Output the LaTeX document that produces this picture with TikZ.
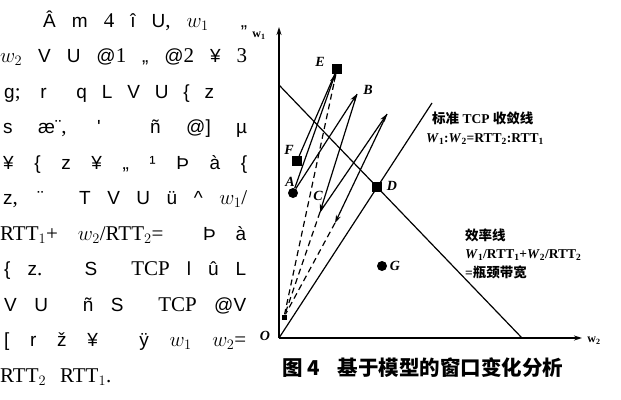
\documentclass[tikz,border=0pt]{standalone}
\usepackage{fontspec}
\newfontfamily\gar{Liberation Sans}
\newfontfamily\tms{Liberation Serif}
\newfontfamily\cjk{Noto Sans CJK SC}
\usetikzlibrary{arrows.meta,positioning,calc}

% serif pieces of the garbled text are set larger
\newcommand{\sr}[1]{{\tms\fontsize{21}{21}\selectfont #1}}

\tikzset{
  garb/.style={anchor=base west,inner sep=0pt,font=\gar\fontsize{19}{19}\selectfont},
  axis/.style={line width=1.6pt,-{Stealth[length=8pt,width=5pt]}},
  ln/.style={line width=1.2pt},
  dsh/.style={line width=1.2pt,dash pattern=on 6pt off 4pt},
  arr/.style={ln,-{Stealth[length=8pt,width=5pt]}},
  sqdot/.style={rectangle,fill=black,minimum size=10pt,inner sep=0pt},
  rdot/.style={circle,fill=black,minimum size=10pt,inner sep=0pt},
  ptlab/.style={inner sep=0pt,font=\tms\bfseries\itshape\fontsize{14}{14}\selectfont},
  lab/.style={anchor=base west,inner sep=0pt,font=\tms\bfseries\fontsize{13.5}{15}\selectfont},
}

\begin{document}
\begin{tikzpicture}[x=1pt,y=-1pt]
    \useasboundingbox (0,0) rectangle (621,399);

    % garbled column of text
    \node[garb] (l1) at (43,27) {\makebox[204pt][s]{Â m \sr{4} î U\sr{,} \sr{$w_1$} \ „}};
    \node[garb] (l2) at (0,62) {\makebox[247pt][s]{\sr{$w_2$} V U @\sr{1} „ @\sr{2} ¥ \sr{3}}};
    \node[garb] (l3) at (4,98) {\makebox[210pt][s]{g\sr{;} r \ q L V U \{ z}};
    \node[garb] (l4) at (3,133) {\makebox[244pt][s]{s æ¨\sr{,} ' \quad ñ @] µ}};
    \node[garb] (l5) at (3,169) {\makebox[244pt][s]{¥ \{ z ¥ „ ¹ Þ à \{}};
    \node[garb] (l6) at (3,204) {\makebox[244pt][s]{z\sr{,} ¨ \quad T V U ü \textasciicircum{} \sr{$w_1$/}}};
    \node[garb] (l7) at (0,240) {\makebox[246pt][s]{\sr{RTT$_1$+} \sr{$w_2$/RTT$_2$=} \ Þ à}};
    \node[garb] (l8) at (4,275) {\makebox[242pt][s]{\{ z\sr{.} S \ \sr{TCP} l û L}};
    \node[garb] (l9) at (4,311) {\makebox[242pt][s]{V U \ ñ S \ \sr{TCP} @V}};
    \node[garb] (l10) at (4,346) {\makebox[242pt][s]{[ r ž ¥ \ ÿ \sr{$w_1$} \sr{$w_2$=}}};
    \node[garb] (l11) at (0,382) {\sr{RTT$_2$\hspace{14pt}RTT$_1$.}};

    % axes and the two lines
    \coordinate (O) at (279,338);
    \coordinate (yend) at (279,27);
    \coordinate (xend) at (582,338);
    \coordinate (eff1) at (279,85);
    \coordinate (eff2) at (522,338);
    \coordinate (fair) at (432,103);
    \draw[axis] (O) -- (yend);
    \draw[axis] (O) -- (xend);
    \draw[ln] (eff1) -- (eff2);
    \draw[ln] (O) -- (fair);

    % points
    \node[sqdot] (D) at (377,187) {};
    \node[sqdot] (E) at (337,69) {};
    \node[sqdot] (F) at (297,161) {};
    \node[rdot] (A) at (293,193) {};
    \node[rdot] (G) at (382,266) {};
    \node[sqdot,minimum size=5pt] (S) at (284,317) {};
    \coordinate (B) at (357,94);
    \coordinate (C) at (320,212);
    \coordinate (P) at (387,114);
    \coordinate (Q) at (335,223);

    % window moves
    \draw[arr] (A) -- (B);
    \draw[arr] (B) -- (C);
    \draw[arr] (C) -- (P);
    \draw[arr] (P) -- (Q);
    \draw[arr] (A) -- (E);
    \draw[ln] (F) -- (E);
    \draw[dsh] (E) -- (S);
    \draw[dsh] (C) -- (S);
    \draw[dsh] (Q) -- (S);

    % labels
    \node[ptlab] (lE) at (320,62) {E};
    \node[ptlab] (lB) at (368,90) {B};
    \node[ptlab] (lF) at (289,150) {F};
    \node[ptlab] (lA) at (290,182) {A};
    \node[ptlab] (lC) at (318,196) {C};
    \node[ptlab] (lD) at (392,186) {D};
    \node[ptlab] (lG) at (395,266) {G};
    \node[ptlab] (lO) at (265,336) {O};
    \node[inner sep=0pt,font=\tms\bfseries\fontsize{12}{12}\selectfont] (w1) at (259,36) {w\textsubscript{1}};
    \node[inner sep=0pt,font=\tms\bfseries\fontsize{12}{12}\selectfont] (w2) at (594,341) {w\textsubscript{2}};

    \node[lab] (fl1) at (432,123) {{\cjk\bfseries 标准} TCP {\cjk\bfseries 收敛线}};
    \node[lab] (fl2) at (426,142) {\textit{W}\textsubscript{1}:\textit{W}\textsubscript{2}=RTT\textsubscript{2}:RTT\textsubscript{1}};
    \node[lab] (el1) at (465,240) {\cjk\bfseries 效率线};
    \node[lab] (el2) at (465,258) {\textit{W}\textsubscript{1}/RTT\textsubscript{1}+\textit{W}\textsubscript{2}/RTT\textsubscript{2}};
    \node[lab] (el3) at (465,277) {={\cjk\bfseries 瓶颈带宽}};

    \node[anchor=base west,inner sep=0pt,font=\cjk\bfseries\fontsize{20.5}{20.5}\selectfont] (cap) at (282,375) {图 4\hspace{18pt}基于模型的窗口变化分析};

  \end{tikzpicture}
\end{document}
